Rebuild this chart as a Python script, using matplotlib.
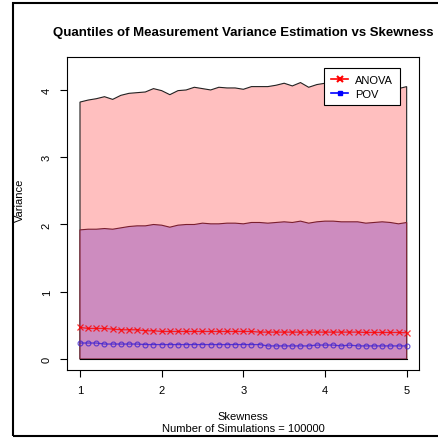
import numpy as np
import matplotlib.pyplot as plt
from matplotlib.patches import Rectangle

plt.rcParams['font.family'] = ['Liberation Sans', 'DejaVu Sans']

# skewness grid used in the simulation
skew = [1.0, 1.1, 1.2, 1.3, 1.4, 1.5, 1.6, 1.7, 1.8, 1.9,
        2.0, 2.1, 2.2, 2.3, 2.4, 2.5, 2.6, 2.7, 2.8, 2.9,
        3.0, 3.1, 3.2, 3.3, 3.4, 3.5, 3.6, 3.7, 3.8, 3.9,
        4.0, 4.1, 4.2, 4.3, 4.4, 4.5, 4.6, 4.7, 4.8, 4.9, 5.0]

# upper quantile band (pink)
q_upper = [3.82, 3.85, 3.87, 3.90, 3.86, 3.92, 3.95, 3.96, 3.97, 4.02,
           3.99, 3.93, 3.99, 4.00, 4.04, 4.02, 4.00, 4.04, 4.03, 4.03,
           4.01, 4.05, 4.05, 4.05, 4.07, 4.10, 4.06, 4.11, 4.04, 4.08,
           4.10, 4.12, 4.10, 4.12, 4.11, 4.13, 4.11, 4.12, 4.10, 4.02, 4.05]

# middle quantile band (purple)
q_middle = [1.92, 1.93, 1.93, 1.94, 1.93, 1.95, 1.97, 1.98, 1.98, 2.00,
            1.99, 1.96, 1.99, 2.00, 2.00, 2.02, 2.01, 2.01, 2.02, 2.02,
            2.01, 2.03, 2.03, 2.02, 2.03, 2.04, 2.03, 2.05, 2.02, 2.04,
            2.05, 2.05, 2.04, 2.04, 2.04, 2.02, 2.03, 2.04, 2.03, 2.01, 2.03]

anova = [0.47, 0.455, 0.455, 0.455, 0.445, 0.435, 0.435, 0.435, 0.42, 0.42,
         0.41, 0.41, 0.41, 0.41, 0.41, 0.41, 0.41, 0.41, 0.41, 0.41,
         0.41, 0.41, 0.40, 0.40, 0.40, 0.40, 0.40, 0.40, 0.40, 0.40,
         0.40, 0.40, 0.40, 0.40, 0.40, 0.395, 0.395, 0.395, 0.395, 0.395, 0.39]

pov = [0.238, 0.238, 0.238, 0.223, 0.223, 0.223, 0.223, 0.223, 0.215, 0.215,
       0.215, 0.215, 0.215, 0.215, 0.215, 0.215, 0.215, 0.215, 0.215, 0.215,
       0.215, 0.215, 0.215, 0.195, 0.195, 0.195, 0.195, 0.195, 0.195, 0.208,
       0.208, 0.208, 0.195, 0.208, 0.195, 0.195, 0.195, 0.195, 0.195, 0.195, 0.195]

fig = plt.figure(figsize=(4.38, 4.39), dpi=100)
ax = fig.add_axes([67/438, 1 - 371/439, (419 - 67)/438, (371 - 58)/439])

# quantile bands as closed polygons down to zero
bx = [skew[0]] + skew + [skew[-1]]
ax.fill(bx, [0] + q_upper + [0], facecolor='#FFBFBF', edgecolor='#222222', linewidth=0.8)
ax.fill(bx, [0] + q_middle + [0], facecolor='#CD8CBF', edgecolor='#7A1F2E', linewidth=0.8)
ax.plot([skew[0], skew[-1]], [0, 0], color='black', linewidth=0.8)

ax.plot(skew, anova, color='red', alpha=0.8, linewidth=0.9, marker='x', markersize=4, markeredgewidth=0.9)
ax.plot(skew, pov, color='#3B1FD0', alpha=0.8, linewidth=0.9, marker='o', markersize=3.5,
        markerfacecolor='none', markeredgewidth=0.8)

ax.set_xlim(0.841, 5.151)
ax.set_ylim(-0.163, 4.49)
ax.set_xticks([1, 2, 3, 4, 5])
ax.set_yticks([0, 1, 2, 3, 4])
ax.tick_params(axis='both', direction='out', length=5, width=0.8, labelsize=8, pad=6)
for lab in ax.get_yticklabels():
    lab.set_rotation(90)
    lab.set_va('center')
for s in ax.spines.values():
    s.set_linewidth(0.8)

# legend handles
h1, = ax.plot([], [], color='red', linewidth=1.2, marker='x', markersize=4, markeredgewidth=1.5)
h2, = ax.plot([], [], color='blue', linewidth=1.2, marker='s', markersize=2.5)
leg = ax.legend([h1, h2], ['ANOVA', 'POV'], loc='upper left',
                bbox_to_anchor=((324 - 67)/352, (371 - 69)/313), borderaxespad=0,
                fancybox=False, edgecolor='black', framealpha=1, fontsize=8,
                handlelength=1.6, handletextpad=0.6, borderpad=0.6, labelspacing=0.35)
leg.get_frame().set_linewidth(0.8)

fig.text(243/438, 1 - 33/439, 'Quantiles of Measurement Variance Estimation vs Skewness',
         ha='center', va='center', fontsize=9.5, fontweight='bold')
fig.text(243/438, 1 - 417/439, 'Skewness', ha='center', va='center', fontsize=8)
fig.text(243/438, 1 - 429/439, 'Number of Simulations = 100000', ha='center', va='center', fontsize=8)
fig.text(20/438, 1 - 200/439, 'Variance', ha='center', va='center', rotation=90, fontsize=8)

# outer frame around the device region
fig.patches.append(Rectangle((13/438, 1 - 437/439), 1.0, (437 - 4)/439,
                             transform=fig.transFigure, fill=False,
                             edgecolor='black', linewidth=1.5, clip_on=False))

fig.savefig('out.png', dpi=100)
